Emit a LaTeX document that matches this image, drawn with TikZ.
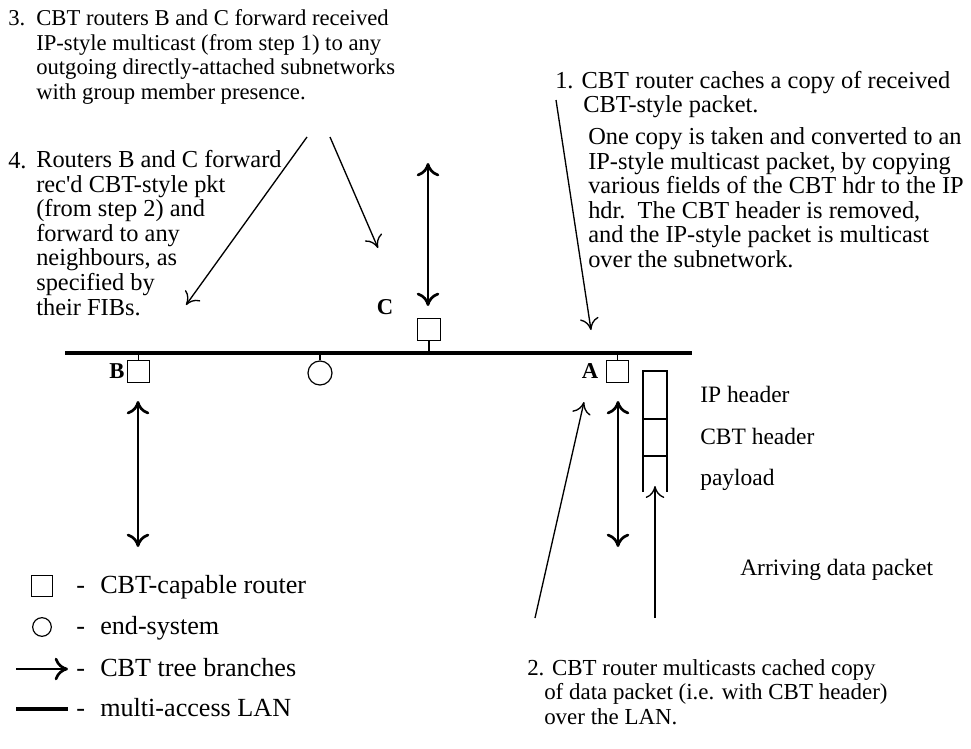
\documentclass[tikz,border=0pt]{standalone}
\usepackage{fontspec}
\setmainfont{Liberation Serif}
\usetikzlibrary{arrows.meta}

% multi-line nodes are placed by the baseline of their last line
\tikzset{
  txt/.style={font=\fontsize{18.3}{18.4}\selectfont, align=left, inner sep=0pt, anchor=base west},
  txtsm/.style={txt, font=\fontsize{17}{18.4}\selectfont},
  txtmd/.style={txt, font=\fontsize{17.2}{18.4}\selectfont},
  pkt/.style={font=\fontsize{17.6}{18.4}\selectfont, inner sep=0pt, anchor=base west},
  key/.style={font=\fontsize{19.6}{20}\selectfont, inner sep=0pt, anchor=base west},
  lbl/.style={font=\fontsize{17}{18}\selectfont\bfseries, inner sep=0pt},
  router/.style={draw, line width=0.9pt, minimum size=17pt, inner sep=0pt},
  endsys/.style={draw, circle, line width=0.9pt, minimum size=18pt, inner sep=0pt},
  lan/.style={line width=2.3pt},
  stub/.style={line width=0.9pt},
  branch/.style={line width=2.1pt, {Computer Modern Rightarrow[length=10pt,width=17pt,line width=2pt]}-{Computer Modern Rightarrow[length=10pt,width=17pt,line width=2pt]}},
  branchone/.style={line width=2.1pt, -{Computer Modern Rightarrow[length=10pt,width=17pt,line width=2pt]}},
  pointer/.style={line width=1pt, -{Computer Modern Rightarrow[length=9pt,width=14pt,line width=1pt]}},
}

\begin{document}
\begin{tikzpicture}[x=0.75pt,y=-0.75pt]
\useasboundingbox (0,0) rectangle (971,749);

% ---- step 3 note
\node[txtsm] (n3) at (8,26) {3.};
\node[txtsm] (t3) at (36,99.5) {CBT routers B and C forward received\\IP-style multicast (from step 1) to any\\outgoing directly-attached subnetworks\\with group member presence.};

% ---- step 4 note
\node[txt] (n4) at (8,168) {4.};
\node[txt] (t4) at (36,315) {Routers B and C forward\\rec\textquotesingle d CBT-style pkt\\(from step 2) and\\forward to any\\neighbours, as\\specified by\\their FIBs.};

% ---- step 1 note
\node[txt] (t1a) at (555,89) {1. CBT router caches a copy of received};
\node[txt] (t1b) at (583,113) {CBT-style packet.};
\node[txt] (t1c) at (588,267.5) {One copy is taken and converted to an\\IP-style multicast packet, by copying\\various fields of the CBT hdr to the IP\\hdr.\ \ The CBT header is removed,\\and the IP-style packet is multicast\\over the subnetwork.};

% ---- step 2 note
\node[txtmd] (t2a) at (527,675) {2. CBT router multicasts cached copy};
\node[txtmd] (t2b) at (544,724.5) {of data packet (i.e. with CBT header)\\over the LAN.};

% ---- the LAN and its attached systems
\coordinate (lanL) at (65,353);
\coordinate (lanR) at (692,353);
\draw[lan] (lanL) -- (lanR);

\node[router] (C) at (429,329.5) {};
\node[router] (B) at (138.5,371.5) {};
\node[endsys] (E) at (320,373) {};
\node[router] (A) at (617.5,371.5) {};

\draw[stub] (C.south) -- (C.south |- lanL);
\draw[stub] (B.north) -- (B.north |- lanL);
\draw[stub] (E.north) -- (E.north |- lanL);
\draw[stub] (A.north) -- (A.north |- lanL);

\node[lbl] (lC) at (385,307) {C};
\node[lbl] (lB) at (117,371) {B};
\node[lbl] (lA) at (590,371) {A};

% ---- tree branches
\coordinate (Ctop) at (428,163);
\coordinate (Cbot) at (428,306);
\draw[branch] (Ctop) -- (Cbot);
\coordinate (Btop) at (138,401);
\coordinate (Bbot) at (138,547);
\draw[branch] (Btop) -- (Bbot);
\coordinate (Atop) at (618,401);
\coordinate (Abot) at (618,547);
\draw[branch] (Atop) -- (Abot);

% ---- arriving packet
\coordinate (pkTL) at (643,371);
\coordinate (pkTR) at (667,371);
\coordinate (pkBL) at (643,492);
\coordinate (pkBR) at (667,492);
\draw[stub] (pkBL) -- (pkTL) -- (pkTR) -- (pkBR);
\draw[stub] (643,419) -- (667,419);
\draw[stub] (643,456) -- (667,456);
\node[pkt] (ip) at (700,402) {IP header};
\node[pkt] (cbt) at (700,444) {CBT header};
\node[pkt] (pl) at (700,485) {payload};
\node[pkt] (arr) at (740,575) {Arriving data packet};
\coordinate (pkIn) at (655,618);
\coordinate (pkHead) at (655,486);
\draw[pointer] (pkIn) -- (pkHead);

% ---- pointers from the notes
\coordinate (p3a) at (307,137);
\coordinate (p3aEnd) at (186,305);
\draw[pointer] (p3a) -- (p3aEnd);
\coordinate (p3b) at (330,137);
\coordinate (p3bEnd) at (378,248);
\draw[pointer] (p3b) -- (p3bEnd);
\coordinate (p1) at (556,100);
\coordinate (p1End) at (591,330);
\draw[pointer] (p1) -- (p1End);
\coordinate (p2) at (535,618);
\coordinate (p2End) at (584,402);
\draw[pointer] (p2) -- (p2End);

% ---- legend
\node[router, minimum size=16pt] (kR) at (42,586) {};
\node[key] (kRd) at (76,593) {-};
\node[key] (kRt) at (100,593) {CBT-capable router};
\node[endsys, minimum size=14pt] (kE) at (42,627) {};
\node[key] (kEd) at (76,634) {-};
\node[key] (kEt) at (100,634) {end-system};
\coordinate (kBa) at (16,669);
\coordinate (kBb) at (68,669);
\draw[branchone] (kBa) -- (kBb);
\node[key] (kBd) at (76,676) {-};
\node[key] (kBt) at (100,676) {CBT tree branches};
\coordinate (kLa) at (16,709);
\coordinate (kLb) at (68,709);
\draw[lan] (kLa) -- (kLb);
\node[key] (kLd) at (76,716) {-};
\node[key] (kLt) at (100,716) {multi-access LAN};
\end{tikzpicture}
\end{document}
